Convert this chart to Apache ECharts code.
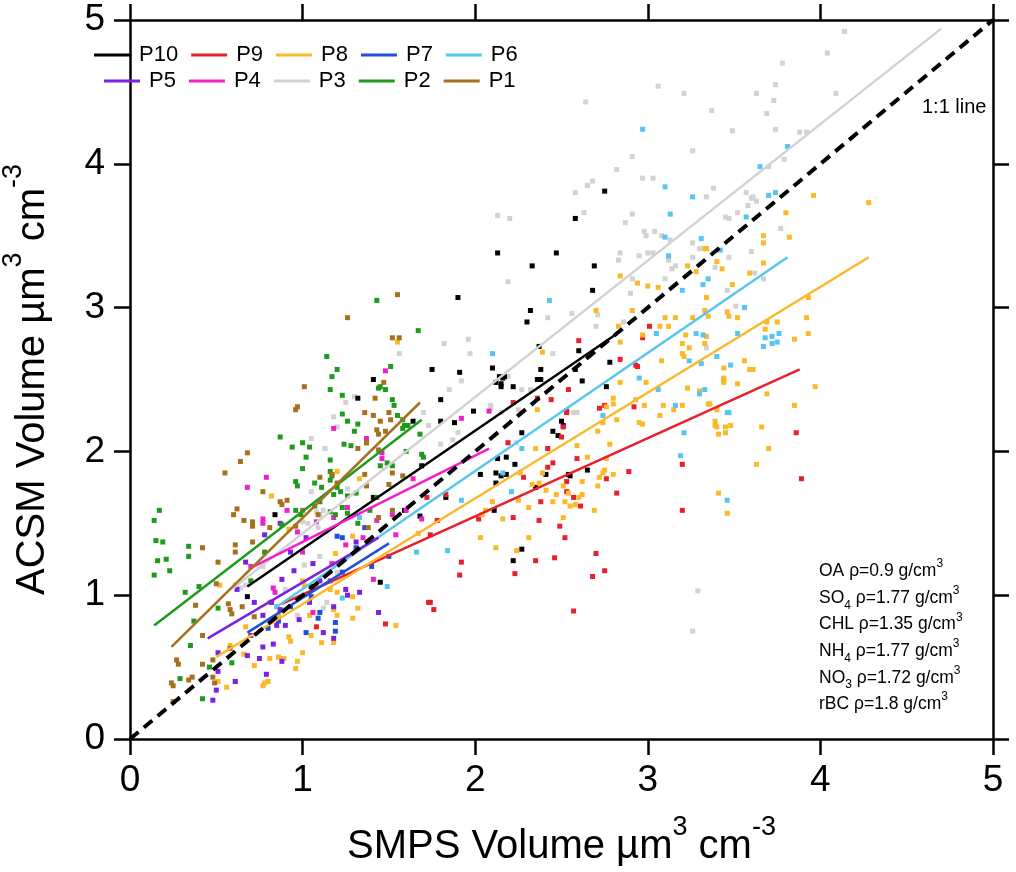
<!DOCTYPE html>
<html>
<head>
<meta charset="utf-8">
<title>ACSM vs SMPS volume</title>
<script src="https://cdn.jsdelivr.net/npm/echarts/dist/echarts.min.js"></script>
<style>
  html, body { margin: 0; padding: 0; background: #fff; }
  #chart { width: 1016px; height: 872px; }
</style>
</head>
<body>
<div id="chart"></div>
<script>
// Periods in legend order and their colours
const periods = ['P10', 'P9', 'P8', 'P7', 'P6', 'P5', 'P4', 'P3', 'P2', 'P1'];
const periodColors = ['#000000', '#e8202a', '#fbb829', '#1f50dc', '#55c6f0',
                      '#7b22e0', '#f020c8', '#d2d2d2', '#1e9b1e', '#a5711f'];
const axisTicks = [0, 1, 2, 3, 4, 5];

// Scatter points [SMPS, ACSM]
const ptsP10 = [[2.75,3.81],[2.58,3.62],[2.13,3.38],[2.47,3.38],[2.33,3.29],[2.69,3.29],[1.9,3.07],[2.68,3.12],[2.32,2.98],[2.3,2.9],[2.37,2.73],[2.6,2.7],[2.78,2.62],[1.75,2.57],[1.91,2.55],[2.1,2.58],[2.14,2.52],[2.17,2.52],[2.12,2.48],[2.15,2.47],[2.16,2.51],[2.15,2.45],[2.22,2.45],[2.38,2.57],[2.36,2.5],[2.38,2.5],[2.58,2.57],[2.62,2.49],[2.76,2.45],[1.8,2.36],[1.99,2.28],[1.8,2.21],[1.88,2.2],[2.51,2.18],[2.27,2.13],[2.45,2.14],[2.48,2.11],[2.5,2.21],[2.13,1.95],[2.18,1.96],[2.23,1.91],[2.12,1.85],[2.15,1.83],[2.18,1.84],[2.03,1.84],[2.41,1.84],[2.54,1.84],[2.65,1.87],[2.12,1.78],[1.83,1.68],[2.35,1.75],[2.11,1.59],[2.27,1.32],[2.22,1.24],[1.41,2.5],[1.32,2.37],[1.64,2.21],[1.69,1.9],[0.84,1.56],[1.41,1.68],[1.68,1.55],[1.59,1.59],[0.68,0.99],[0.89,0.56],[1.45,1.09],[1.05,1.06],[2.55,1.83]];
const ptsP9 = [[2.22,2.34],[2.53,2.27],[2.72,2.3],[2.75,2.32],[2.92,2.31],[2.19,2.06],[2.5,2.1],[2.42,2.02],[2.59,1.95],[2.45,1.92],[2.42,1.89],[2.28,1.82],[2.53,1.79],[2.53,1.72],[2.76,1.81],[2.89,1.86],[3.2,1.91],[2.82,1.71],[2.57,1.68],[2.61,1.62],[2.38,1.65],[1.83,1.7],[2.02,1.53],[2.22,1.54],[1.78,1.52],[2.37,1.52],[2.49,1.48],[2.52,1.4],[3.2,1.59],[1.74,1.42],[1.92,1.23],[1.91,1.14],[2.23,1.15],[2.35,1.24],[2.46,1.26],[2.7,1.29],[2.68,1.13],[2.75,1.17],[2.57,0.89],[1.74,0.95],[1.76,0.9],[2.6,2.77],[2.84,2.64],[3.01,2.87],[2.97,2.79],[2.93,2.6],[2.94,2.59],[2.54,2.43],[2.44,2.36],[2.36,2.37],[2.53,2.28],[2.51,2.17],[3.86,2.13],[3.89,1.81],[1.08,0.78],[1.48,0.8],[1.73,0.95],[1.72,1.68]];
const ptsP8 = [[2.36,2.29],[2.76,2.31],[2.8,2.33],[2.74,2.2],[2.82,2.22],[2.98,2.32],[2.97,2.19],[3.07,2.25],[3.15,2.29],[3.2,2.32],[3.35,2.33],[3.4,2.29],[3.39,2.18],[3.41,2.12],[3.45,2.13],[2.71,2.14],[2.59,2.04],[2.78,2.05],[2.35,2.02],[2.65,1.96],[2.76,1.95],[2.75,1.87],[2.74,1.85],[2.8,1.84],[2.72,1.82],[2.39,1.85],[2.26,1.85],[2.62,1.79],[2.71,1.76],[2.33,1.77],[2.37,1.78],[2.41,1.73],[2.47,1.7],[2.54,1.71],[2.62,1.7],[2.6,1.68],[2.51,1.76],[2.45,1.65],[2.52,1.65],[2.55,1.62],[2.58,1.63],[2.69,1.59],[2.31,1.61],[2.25,1.66],[2.1,1.65],[2.06,1.59],[2.04,1.56],[2.16,1.53],[2.51,1.54],[2.03,1.4],[2.31,1.4],[2.12,1.33],[2.24,1.31],[3.41,1.71],[3.46,1.57],
  [3.96,3.78],[4.28,3.73],[3.8,3.66],[3.67,3.5],[3.67,3.45],[3.82,3.49],[3.34,3.41],[3.4,3.32],[3.43,3.27],[3.67,3.31],[3.59,3.24],[3.49,3.16],[3.34,3.07],[3.93,3.07],[3.33,2.98],[3.35,2.94],[3.46,2.97],[3.47,2.94],[3.52,2.93],[3.92,2.93],[3.69,2.9],[3.75,2.9],[3.68,2.85],[3.93,2.82],[3.34,2.8],[3.85,2.78],[3.33,2.75],[3.56,2.63],[3.44,2.58],[3.59,2.57],[3.61,2.57],[3.44,2.51],[3.44,2.48],[3.52,2.47],[3.97,2.45],[3.69,2.4],[3.36,2.33],[3.85,2.32],[3.39,2.21],[3.4,2.17],[3.45,2.17],[3.48,2.18],[3.66,2.17],[3.7,2.02],[3.63,1.91],
  [2.84,3.22],[2.94,3.17],[3.0,3.15],[3.06,3.14],[3.23,3.29],[3.28,3.25],[3.33,3.41],[2.7,2.98],[2.91,2.98],[2.83,2.87],[2.97,2.81],[3.07,2.87],[3.12,2.87],[3.16,2.93],[3.1,2.93],[3.22,2.81],[3.26,2.93],[3.2,2.75],[3.24,2.72],[3.2,2.68],[3.21,2.66],[3.08,2.63],[2.84,2.76],[2.39,2.69],[2.84,2.48],[2.99,2.48],[3.23,2.44],[3.3,2.42],[3.44,2.5],[2.8,2.37],[2.93,2.36],[3.09,2.32],[2.95,2.2],
  [0.82,1.69],[1.2,1.86],[1.33,1.81],[1.55,2.76],[0.92,1.46],[1.0,1.1],[1.01,1.07],[1.08,1.06],[1.16,1.04],[1.2,1.02],[1.29,0.99],[1.32,0.91],[1.18,0.9],[1.2,0.86],[1.29,0.84],[1.54,0.79],[1.04,0.86],[1.05,0.72],[1.11,0.67],[1.18,0.67],[0.92,0.71],[0.93,0.68],[1.0,0.6],[0.97,0.54],[0.96,0.49],[0.86,0.57],[0.89,0.56],[0.81,0.56],[0.72,0.51],[0.66,0.59],[0.78,0.39],[0.77,0.37],[0.8,0.4],[0.67,0.78],[0.86,0.86],[0.81,0.95],[0.61,1.07],[0.52,1.07],[0.51,0.4],[0.56,0.36],[0.61,0.4],[0.58,0.65],[1.29,1.41],[1.19,1.29],[1.67,1.43]];
const ptsP7 = [[1.2,1.41],[1.23,1.4],[1.09,0.84],[1.1,0.88],[1.19,0.81],[1.19,0.75],[1.02,0.74],[0.8,0.77],[0.86,0.82],[1.23,1.16],[1.36,1.47],[1.5,1.27],[1.31,1.33],[1.05,0.99],[0.93,0.92],[1.4,1.2]];
const ptsP6 = [[2.97,4.24],[3.81,4.12],[3.65,3.98],[3.1,3.84],[3.26,3.77],[3.7,3.78],[3.74,3.8],[3.13,3.65],[3.1,3.49],[3.31,3.48],[3.12,3.36],[3.35,3.2],[3.32,3.16],[3.2,3.12],[2.43,3.05],[2.1,2.68],[3.05,2.82],[3.28,2.82],[3.32,2.81],[2.95,2.51],[3.06,2.43],[3.16,2.32],[3.3,2.4],[3.33,2.43],[3.24,2.63],[3.31,2.61],[2.74,2.25],[3.21,2.13],[3.19,1.97],[2.27,2.02],[2.16,1.85],[2.21,1.72],[1.92,1.66],[1.84,1.31],[3.46,2.27],[3.46,1.66],[3.57,3.63],[3.42,3.4],[3.56,3.0],[3.52,2.82],[3.68,2.79],[3.72,2.8],[3.76,2.82],[3.67,2.73],[3.72,2.75],[3.75,2.76],[3.4,2.66],[3.48,2.6],[3.47,2.27],[0.85,0.92],[1.23,0.98],[1.49,1.06],[1.66,1.3],[1.33,1.54]];
const ptsP5 = [[0.51,0.6],[0.51,0.47],[0.5,0.34],[0.48,0.27],[0.61,0.4],[0.68,0.58],[0.75,0.56],[0.77,0.64],[0.79,0.45],[0.88,0.54],[0.85,0.79],[0.9,0.79],[1.12,0.74],[1.18,0.7],[0.77,0.86],[1.18,0.92],[1.25,1.04],[1.26,1.0],[1.33,1.02],[1.44,0.88],[1.06,1.22],[0.95,1.17],[0.88,1.11],[0.62,1.04],[0.67,1.23],[0.78,1.42],[0.87,1.5],[1.31,1.37],[0.72,0.95],[0.98,0.83],[1.04,0.95],[0.93,1.3],[1.1,1.1],[0.7,0.72],[0.83,0.66],[1.02,1.4],[0.82,0.95],[0.87,0.9]];
const ptsP4 = [[1.48,2.56],[1.18,2.16],[1.37,2.09],[0.79,1.82],[0.68,1.75],[0.77,1.53],[0.77,1.5],[0.91,1.59],[1.46,1.99],[1.46,1.95],[1.64,1.81],[1.18,1.54],[1.26,1.61],[1.43,1.52],[1.6,1.59],[1.69,1.53],[0.97,1.44],[1.08,1.51],[1.52,1.56],[1.54,1.42],[1.17,1.22],[1.16,1.1],[1.41,1.11],[0.83,1.05],[0.84,1.02],[1.06,0.88],[0.7,1.2],[1.92,2.23],[2.08,2.28],[1.0,1.3],[1.35,1.4],[1.25,1.35]];
const ptsP3 = [[4.14,4.92],[4.04,4.77],[3.78,4.7],[3.06,4.54],[3.21,4.49],[3.63,4.49],[3.74,4.55],[3.73,4.44],[4.09,4.49],[2.64,4.43],[3.37,4.37],[3.69,4.35],[3.49,4.23],[3.74,4.24],[3.88,4.22],[3.92,4.22],[3.26,4.09],[2.91,4.05],[3.79,4.03],[2.82,3.96],[3.7,3.98],[2.97,3.9],[3.03,3.9],[2.68,3.88],[2.65,3.85],[2.58,3.8],[3.38,3.83],[3.34,3.77],[3.57,3.8],[3.61,3.77],
  [3.6,3.76],[3.63,3.74],[3.58,3.71],[3.45,3.63],[3.47,3.62],[3.52,3.66],[3.77,3.55],[3.6,3.39],[3.47,3.35],[3.39,3.28],[3.62,3.24],[3.67,3.2],[3.46,3.12],[3.51,3.01],[3.34,2.72],
  [2.13,3.64],[2.2,3.62],[2.63,3.66],[2.91,3.65],[2.87,3.59],[2.98,3.53],[2.99,3.5],[3.04,3.53],[3.08,3.5],[3.13,3.47],[3.26,3.45],[3.3,3.41],[2.84,3.38],[2.83,3.33],[2.95,3.36],[3.0,3.38],[3.03,3.38],[3.12,3.33],[3.16,3.29],[3.14,3.27],[3.26,3.35],[3.1,3.2],[2.19,3.18],[2.91,3.2],[2.9,3.1],[2.42,2.93],[2.56,2.96],[2.71,2.95],[2.86,2.9],[1.82,2.75],[1.96,2.78],[1.97,2.68],[2.45,2.68],[2.7,2.87],[1.92,2.49],[1.85,2.43],[2.27,2.43],[2.32,2.43],[2.19,2.52],[2.57,2.27],[2.59,2.27],[2.25,2.29],
  [2.09,2.32],[2.09,2.3],[2.15,2.27],[1.8,2.05],[1.87,2.08],[1.9,2.13],[3.29,1.03],[3.26,0.75],[2.19,2.06],[2.24,2.06],
  [1.56,2.68],[1.18,2.24],[1.05,2.09],[1.13,2.02],[1.2,2.17],[1.25,2.34],[1.3,2.38],[1.7,2.27],[1.73,2.18],[1.26,1.74],[1.05,1.72],[1.12,1.59],[1.0,1.51],[1.03,1.5],[1.09,1.47],[1.14,1.44],[1.08,1.58],[1.1,1.56],[1.01,1.21],[1.1,1.27],[1.2,1.16],[0.64,1.05],[0.67,1.07],[0.77,1.2],[0.9,1.04],[0.97,0.86],[1.12,0.91],[1.14,0.95]];
const ptsP2 = [[0.14,1.52],[0.17,1.59],[0.15,1.38],[0.19,1.37],[0.16,1.24],[0.21,1.25],[0.23,1.17],[0.14,1.14],[0.32,1.02],[0.34,1.34],[0.34,1.27],[0.4,1.06],[0.37,0.82],[0.35,0.65],[0.29,0.42],[0.42,0.28],[0.46,0.5],[0.59,0.53],[0.51,0.91],[1.43,3.05],[1.67,2.84],[1.14,2.66],[1.2,2.57],[1.17,2.52],[1.51,2.59],[1.45,2.45],[1.48,2.43],[1.44,2.44],[1.16,2.43],[1.23,2.39],[1.52,2.36],[1.53,2.32],[1.23,2.26],[1.26,2.21],[1.32,2.19],[1.3,2.14],[0.87,2.1],[0.94,2.03],[1.0,2.06],[1.04,2.03],[1.02,1.96],[1.16,1.94],[1.24,2.05],[1.28,2.04],[1.37,2.06],[1.55,2.25],[1.58,2.22],[1.59,2.18],[1.58,2.16],[1.61,2.18],[1.68,2.12],[1.69,1.98],[1.7,1.96],[1.6,2.0],[1.0,1.88],[1.07,1.78],[1.11,1.75],[0.96,1.79],[0.97,1.76],[1.16,1.86],[1.17,1.83],[1.16,1.8],[1.2,1.75],[1.22,1.72],[1.18,1.7],[1.26,1.69],[1.31,1.71],[1.45,1.9],[1.49,1.92],[1.52,1.9],[0.96,1.59],[0.99,1.56],[0.88,1.49],[1.07,1.62],[1.1,1.65],[1.16,1.58],[1.19,1.56],[1.23,1.61],[1.26,1.57],[1.32,1.5],[1.39,1.59],[1.43,1.68],[0.7,1.1],[0.78,1.3]];
const ptsP1 = [[1.55,3.09],[1.26,2.93],[1.52,2.79],[1.56,2.79],[1.01,2.45],[0.96,2.29],[0.97,2.31],[1.42,2.37],[1.47,2.48],[1.36,2.27],[1.41,2.25],[1.45,2.21],[1.5,2.27],[1.51,2.22],[1.43,2.15],[1.44,2.12],[1.48,2.14],[1.37,2.06],[1.32,2.02],[1.44,2.01],[0.68,1.99],[0.64,1.93],[0.55,1.85],[0.77,1.72],[1.1,1.82],[1.17,1.84],[1.2,1.78],[1.36,1.84],[1.52,1.85],[1.58,1.83],[1.37,1.76],[1.5,1.77],[0.62,1.6],[0.6,1.56],[0.66,1.52],[0.71,1.51],[0.87,1.65],[0.88,1.63],[0.91,1.66],[1.0,1.59],[1.09,1.56],[0.81,1.47],[0.96,1.48],[1.38,1.47],[1.44,1.54],[1.52,1.59],[0.71,1.48],[0.42,1.33],[0.51,1.23],[0.61,1.35],[0.61,1.3],[0.71,1.37],[0.5,1.08],[0.57,0.94],[0.58,0.9],[0.59,0.87],[0.65,0.92],[0.38,0.93],[0.42,0.72],[0.27,0.55],[0.28,0.52],[0.24,0.39],[0.25,0.37],[0.34,0.41],[0.36,0.43],[0.42,0.52],[0.48,0.55],[0.48,0.43],[0.49,0.39],[0.25,0.26],[0.58,0.63],[0.72,0.85]];

// Linear fit end points per period
const fitP10 = [[0.68,1.06],[2.81,2.81]];
const fitP9  = [[0.88,0.94],[3.88,2.57]];
const fitP8  = [[0.5,0.57],[4.28,3.35]];
const fitP7  = [[0.68,0.74],[1.5,1.36]];
const fitP6  = [[0.85,0.92],[3.81,3.35]];
const fitP5  = [[0.45,0.7],[1.44,1.4]];
const fitP4  = [[0.7,1.19],[2.08,2.02]];
const fitP3  = [[0.6,1.05],[4.7,4.94]];
const fitP2  = [[0.14,0.79],[1.69,2.22]];
const fitP1  = [[0.24,0.64],[1.68,2.34]];
const oneToOne = [[0,0],[5,5]];

const pointSets = [ptsP10, ptsP9, ptsP8, ptsP7, ptsP6, ptsP5, ptsP4, ptsP3, ptsP2, ptsP1];
const fitSets = [fitP10, fitP9, fitP8, fitP7, fitP6, fitP5, fitP4, fitP3, fitP2, fitP1];

const FONT = 'Liberation Sans, Arial, Helvetica, sans-serif';

document.addEventListener('DOMContentLoaded', function() {
    const chart = echarts.init(document.getElementById('chart'), null, { renderer: 'canvas' });

    // Order in which the point clouds are stacked (first = bottom)
    const drawOrder = [7, 0, 1, 2, 4, 3, 5, 6, 8, 9];
    const series = [];

    drawOrder.forEach(i => {
        series.push({
            name: periods[i],
            type: 'scatter',
            data: pointSets[i],
            symbol: 'rect',
            symbolSize: 5,
            itemStyle: { color: periodColors[i], opacity: 1 },
            z: 2
        });
    });

    drawOrder.forEach(i => {
        series.push({
            name: periods[i],
            type: 'line',
            data: fitSets[i],
            showSymbol: false,
            symbol: 'none',
            lineStyle: { color: periodColors[i], width: 2.5 },
            itemStyle: { color: periodColors[i] },
            z: 3
        });
    });

    series.push({
        name: '1:1 line',
        type: 'line',
        data: oneToOne,
        showSymbol: false,
        symbol: 'none',
        lineStyle: { color: '#000', width: 4, type: [11, 7] },
        z: 4
    });

    const axisLine = { show: true, onZero: false, lineStyle: { color: '#000', width: 2.5 } };
    const axisTick = { show: true, inside: false, length: 16, lineStyle: { color: '#000', width: 2.5 } };

    // tall line box for the main text lifts the superscripts above the caps
    const nameRich = {
        b: { fontSize: 40, fontFamily: FONT, color: '#000', lineHeight: 66 },
        s: { fontSize: 27, fontFamily: FONT, color: '#000', lineHeight: 12, verticalAlign: 'top' }
    };

    const legendBase = {
        icon: 'rect',
        itemWidth: 36,
        itemHeight: 3,
        itemGap: 13,
        padding: 0,
        orient: 'horizontal',
        selectedMode: false,
        textStyle: { fontSize: 22, fontFamily: FONT, color: '#000', padding: [0, 0, 0, 4] },
        z: 10
    };

    const option = {
        animation: false,
        backgroundColor: '#fff',
        grid: { left: 130, right: 23, top: 20, bottom: 133, containLabel: false, outerBoundsMode: 'none' },
        legend: [
            Object.assign({}, legendBase, { data: periods.slice(0, 5), left: 94, top: 44 }),
            Object.assign({}, legendBase, { data: periods.slice(5), left: 104, top: 70 })
        ],
        xAxis: [{
            type: 'value',
            position: 'bottom',
            min: axisTicks[0],
            max: axisTicks[axisTicks.length - 1],
            interval: 1,
            axisLine: axisLine,
            axisTick: axisTick,
            splitLine: { show: false },
            axisLabel: { fontSize: 37, fontFamily: FONT, color: '#000', margin: 23 },
            name: '{b|SMPS Volume µm}{s|3}{b| cm}{s|-3}',
            nameLocation: 'middle',
            nameGap: 75,
            nameTextStyle: { rich: nameRich }
        }, {
            type: 'value',
            position: 'top',
            min: axisTicks[0],
            max: axisTicks[axisTicks.length - 1],
            interval: 1,
            axisLine: axisLine,
            axisTick: axisTick,
            splitLine: { show: false },
            axisLabel: { show: false }
        }],
        yAxis: [{
            type: 'value',
            position: 'left',
            min: axisTicks[0],
            max: axisTicks[axisTicks.length - 1],
            interval: 1,
            axisLine: axisLine,
            axisTick: axisTick,
            splitLine: { show: false },
            axisLabel: { fontSize: 37, fontFamily: FONT, color: '#000', margin: 25 },
            name: '{b|ACSM Volume µm}{s|3}{b| cm}{s|-3}',
            nameLocation: 'middle',
            nameRotate: 90,
            nameGap: 64,
            nameTextStyle: { rich: nameRich }
        }, {
            type: 'value',
            position: 'right',
            min: axisTicks[0],
            max: axisTicks[axisTicks.length - 1],
            interval: 1,
            axisLine: axisLine,
            axisTick: axisTick,
            splitLine: { show: false },
            axisLabel: { show: false }
        }],
        graphic: [{
            type: 'text',
            left: 922,
            top: 97,
            style: { text: '1:1 line', fontSize: 20, fontFamily: FONT, fill: '#000' },
            z: 10
        }, {
            type: 'text',
            left: 819,
            top: 558,
            style: {
                text: [
                    '{b|OA ρ=0.9 g/cm}{s|3}',
                    '{b|SO}{d|4}{b| ρ=1.77 g/cm}{s|3}',
                    '{b|CHL ρ=1.35 g/cm}{s|3}',
                    '{b|NH}{d|4}{b| ρ=1.77 g/cm}{s|3}',
                    '{b|NO}{d|3}{b| ρ=1.72 g/cm}{s|3}',
                    '{b|rBC ρ=1.8 g/cm}{s|3}'
                ].join('\n'),
                rich: {
                    b: { fontSize: 17.5, fontFamily: FONT, fill: '#000', lineHeight: 26.6 },
                    s: { fontSize: 12, fontFamily: FONT, fill: '#000', lineHeight: 16, verticalAlign: 'top' },
                    d: { fontSize: 12, fontFamily: FONT, fill: '#000', lineHeight: 16, verticalAlign: 'bottom' }
                }
            },
            z: 10
        }],
        series: series
    };

    chart.setOption(option);
});
</script>
</body>
</html>
